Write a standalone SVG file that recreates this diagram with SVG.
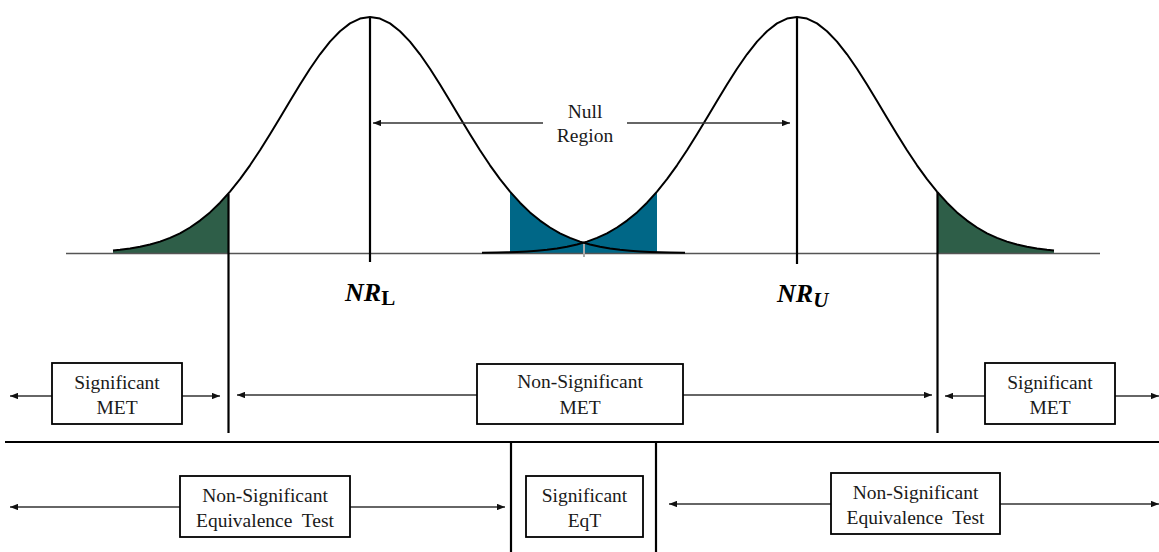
<svg xmlns="http://www.w3.org/2000/svg" width="1159" height="552" viewBox="0 0 1159 552">
<style>
.curve{fill:none;stroke:#000;stroke-width:2;stroke-linejoin:round}
.vl{stroke:#000;stroke-width:2.2}
.arr{stroke:#333;stroke-width:1.3;fill:none;marker-end:url(#ah)}
.box{fill:#fff;stroke:#000;stroke-width:1.8}
.t{font-family:"Liberation Serif","Times New Roman",serif;font-size:19.5px;fill:#1a1a1a;text-anchor:middle}
.nr{font-family:"Liberation Serif","Times New Roman",serif;font-weight:bold;font-style:italic;font-size:26px;fill:#000}
.green{fill:#2E5E48}
.blue{fill:#006787}
</style>
<defs>
<marker id="ah" viewBox="0 0 10 8" refX="10" refY="4" markerWidth="8" markerHeight="6.4" markerUnits="userSpaceOnUse" orient="auto">
<path d="M0,0 L10,4 L0,8 Z" fill="#111"/>
</marker>
</defs>

<g id="fills">
<path class="green" d="M113,253 L113,250.5 L120,249.8 L130,248.5 L140,246.8 L150,244.5 L160,241.6 L170,237.9 L180,233.3 L190,227.5 L200,220.6 L210,212.4 L220,202.7 L228,194 L228,253 Z"/>
<path class="green" d="M937,253 L937,191.6 L947,202.7 L957,212.4 L967,220.6 L977,227.5 L987,233.3 L997,237.9 L1007,241.6 L1017,244.5 L1027,246.8 L1037,248.5 L1047,249.8 L1054,250.5 L1054,253 Z"/>
<path class="blue" d="M510,253 L510,191.6 L520,202.7 L530,212.4 L540,220.6 L550,227.5 L560,233.3 L570,237.9 L580,241.6 L583.5,242.7 L587,241.6 L597,237.9 L607,233.3 L617,227.5 L627,220.6 L637,212.4 L647,202.7 L657,191.6 L657,253 Z"/>
</g>

<g id="axis">
<line x1="66" y1="253.5" x2="1100" y2="253.5" stroke="#555" stroke-width="1.5"/>
<line x1="584" y1="242" x2="584" y2="257" stroke="#aaa" stroke-width="2"/>
</g>

<g id="curve-left">
<polyline class="curve" points="113,250.5 120,249.8 130,248.5 140,246.8 150,244.5 160,241.6 170,237.9 180,233.3 190,227.5 200,220.6 210,212.4 220,202.7 230,191.6 240,179.1 250,165.3 260,150.2 270,134.3 280,117.7 290,101 300,84.5 310,68.7 320,54.3 330,41.6 340,31.2 350,23.4 360,18.6 370,17 380,18.6 390,23.4 400,31.2 410,41.6 420,54.3 430,68.7 440,84.5 450,101 460,117.7 470,134.3 480,150.2 490,165.3 500,179.1 510,191.6 520,202.7 530,212.4 540,220.6 550,227.5 560,233.3 570,237.9 580,241.6 590,244.5 600,246.8 610,248.5 620,249.8 630,250.7 640,251.4 650,251.9 660,252.3 670,252.5 685,252.7"/>
</g>
<g id="curve-right">
<polyline class="curve" points="482,252.7 497,252.5 507,252.3 517,251.9 527,251.4 537,250.7 547,249.8 557,248.5 567,246.8 577,244.5 587,241.6 597,237.9 607,233.3 617,227.5 627,220.6 637,212.4 647,202.7 657,191.6 667,179.1 677,165.3 687,150.2 697,134.3 707,117.7 717,101 727,84.5 737,68.7 747,54.3 757,41.6 767,31.2 777,23.4 787,18.6 797,17 807,18.6 817,23.4 827,31.2 837,41.6 847,54.3 857,68.7 867,84.5 877,101 887,117.7 897,134.3 907,150.2 917,165.3 927,179.1 937,191.6 947,202.7 957,212.4 967,220.6 977,227.5 987,233.3 997,237.9 1007,241.6 1017,244.5 1027,246.8 1037,248.5 1047,249.8 1054,250.5"/>
</g>

<g id="dividers">
<line class="vl" x1="370" y1="17" x2="370" y2="262"/>
<line class="vl" x1="797" y1="17" x2="797" y2="264"/>
<line class="vl" x1="228.5" y1="194" x2="228.5" y2="433"/>
<line class="vl" x1="937.5" y1="192" x2="937.5" y2="433"/>
<line x1="5" y1="442" x2="1159" y2="442" stroke="#000" stroke-width="2"/>
<line class="vl" x1="511" y1="442" x2="511" y2="552"/>
<line class="vl" x1="656" y1="442" x2="656" y2="552"/>
</g>

<g id="connectors">
<line class="arr" x1="543" y1="123" x2="373" y2="123"/>
<line class="arr" x1="627" y1="123" x2="790" y2="123"/>
<line class="arr" x1="52" y1="396" x2="10" y2="396"/>
<line class="arr" x1="182" y1="396" x2="220" y2="396"/>
<line class="arr" x1="477" y1="395" x2="237" y2="395"/>
<line class="arr" x1="683" y1="395" x2="932" y2="395"/>
<line class="arr" x1="985" y1="396" x2="945" y2="396"/>
<line class="arr" x1="1115" y1="396" x2="1159" y2="396"/>
<line class="arr" x1="180" y1="507" x2="10" y2="507"/>
<line class="arr" x1="350" y1="507" x2="505" y2="507"/>
<line class="arr" x1="831" y1="504" x2="669" y2="504"/>
<line class="arr" x1="1000" y1="504" x2="1159" y2="504"/>
</g>

<g id="null-region">
<text class="t" x="585" y="118">Null</text>
<text class="t" x="585" y="142">Region</text>
</g>

<g id="nr-l">
<text class="nr" x="345" y="301">NR<tspan font-style="normal" font-size="21" dy="4">L</tspan></text>
</g>
<g id="nr-u">
<text class="nr" x="777" y="302">NR<tspan font-size="21" dy="5">U</tspan></text>
</g>

<g id="sig-met-left">
<rect class="box" x="52" y="363" width="130" height="61"/>
<text class="t" x="117" y="389">Significant</text>
<text class="t" x="117" y="414">MET</text>
</g>
<g id="nonsig-met">
<rect class="box" x="477" y="364" width="206" height="60"/>
<text class="t" x="580" y="388">Non-Significant</text>
<text class="t" x="580" y="414">MET</text>
</g>
<g id="sig-met-right">
<rect class="box" x="985" y="363" width="130" height="61"/>
<text class="t" x="1050" y="389">Significant</text>
<text class="t" x="1050" y="414">MET</text>
</g>

<g id="nonsig-eqt-left">
<rect class="box" x="180" y="476" width="170" height="61"/>
<text class="t" x="265" y="502">Non-Significant</text>
<text class="t" x="265" y="527" style="white-space:pre">Equivalence  Test</text>
</g>
<g id="sig-eqt">
<rect class="box" x="526" y="476" width="117" height="61"/>
<text class="t" x="584.5" y="502">Significant</text>
<text class="t" x="584.5" y="527">EqT</text>
</g>
<g id="nonsig-eqt-right">
<rect class="box" x="831" y="473" width="169" height="61"/>
<text class="t" x="915.5" y="499">Non-Significant</text>
<text class="t" x="915.5" y="524" style="white-space:pre">Equivalence  Test</text>
</g>
</svg>
